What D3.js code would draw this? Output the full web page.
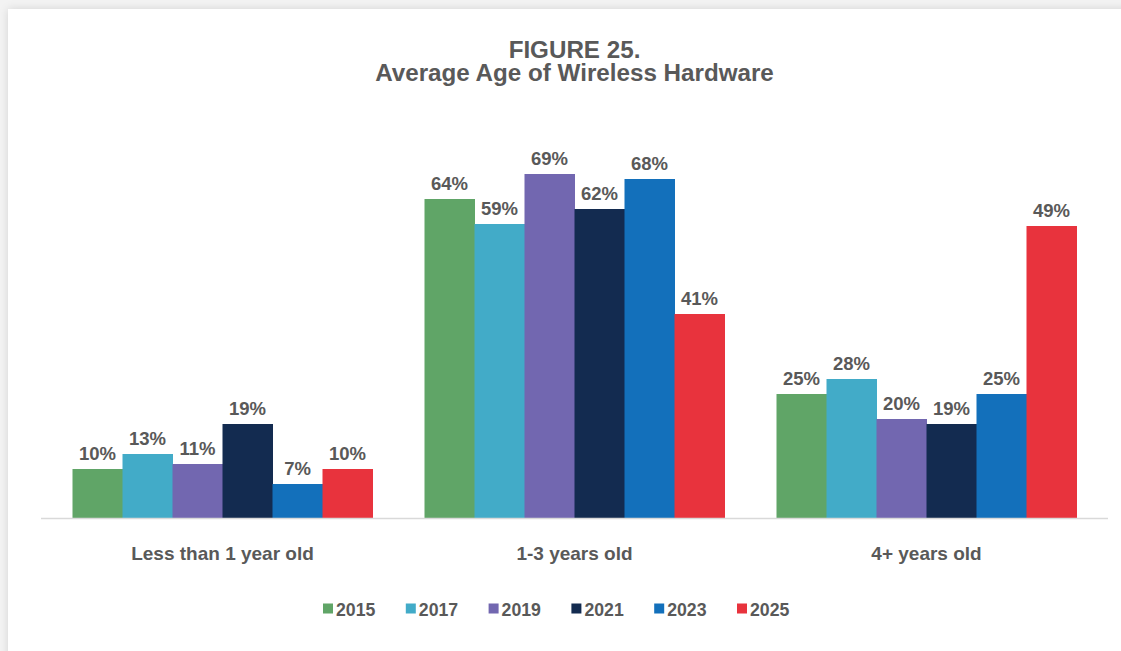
<!DOCTYPE html>
<html>
<head>
<meta charset="utf-8">
<script src="https://cdn.jsdelivr.net/npm/d3@7"></script>
<style>
  html, body { margin: 0; padding: 0; background: #f3f3f3; overflow: hidden; }
  #card {
    position: absolute; left: 8px; top: 9px; width: 1140px; height: 680px;
    background: #fff; box-shadow: 0 0 9px rgba(0,0,0,0.13);
  }
  svg { position: absolute; left: 0; top: 0; }
  text { font-family: "Liberation Sans", Arial, sans-serif; font-weight: bold; fill: #595959; }
</style>
</head>
<body>
<div id="card"></div>
<div id="chart"></div>
<script>
// data
var categories = ["Less than 1 year old", "1-3 years old", "4+ years old"];
var years = ["2015", "2017", "2019", "2021", "2023", "2025"];
var s2015 = [10, 64, 25];
var s2017 = [13, 59, 28];
var s2019 = [11, 69, 20];
var s2021 = [19, 62, 19];
var s2023 = [7, 68, 25];
var s2025 = [10, 41, 49];
// in the source figure the 4+ bar for 2025 is drawn taller than its 49% label
var drawn2025 = [10, 41, 58.6];

var colors = ["#60a567", "#42abc8", "#7267b0", "#132b50", "#1370bb", "#e8333d"];

var series = [s2015, s2017, s2019, s2021, s2023, s2025];
var heights = [s2015, s2017, s2019, s2021, s2023, drawn2025];

var width = 1121, height = 651;

var svg = d3.select('#chart').append('svg')
    .attr('width', width)
    .attr('height', height);

// title
svg.append('text')
    .attr('x', 574.5).attr('y', 58)
    .attr('text-anchor', 'middle')
    .style('font-size', '24.2px')
    .text('FIGURE 25.');
svg.append('text')
    .attr('x', 574.5).attr('y', 81)
    .attr('text-anchor', 'middle')
    .style('font-size', '24.2px')
    .text('Average Age of Wireless Hardware');

var x0 = d3.scaleBand()
    .domain(categories)
    .range([46.5, 1102.5])
    .paddingInner(52 / 352)
    .paddingOuter(26 / 352);

var x1 = d3.scaleBand()
    .domain(years)
    .range([0, x0.bandwidth()]);

var y = d3.scaleLinear()
    .domain([0, 100])
    .range([519, 19]);

var groups = svg.selectAll('g.grp')
    .data(categories)
    .enter().append('g')
    .attr('class', 'grp')
    .attr('transform', function(d) { return 'translate(' + x0(d) + ',0)'; });

groups.each(function(cat, ci) {
    var g = d3.select(this);
    years.forEach(function(yr, si) {
        var h = heights[si][ci];
        g.append('rect')
            .attr('x', x1(yr))
            .attr('y', y(h))
            .attr('width', x1.bandwidth() + 0.5)
            .attr('height', y(0) - y(h))
            .attr('fill', colors[si]);
        g.append('text')
            .attr('x', x1(yr) + x1.bandwidth() / 2)
            .attr('y', y(h) - 9.5)
            .attr('text-anchor', 'middle')
            .style('font-size', '18.5px')
            .text(series[si][ci] + '%');
    });
});

// baseline
svg.append('line')
    .attr('x1', 41).attr('x2', 1108)
    .attr('y1', y(0) - 0.5).attr('y2', y(0) - 0.5)
    .attr('stroke', '#d9d9d9')
    .attr('stroke-width', 1.6);

// category labels
var xAxis = svg.append('g')
    .attr('transform', 'translate(0,' + y(0) + ')')
    .call(d3.axisBottom(x0).tickSize(0));
xAxis.select('.domain').remove();
xAxis.selectAll('text')
    .attr('dy', null)
    .style('font-family', '"Liberation Sans", Arial, sans-serif')
    .style('font-weight', 'bold')
    .style('font-size', '19px')
    .attr('fill', '#595959')
    .attr('y', 41);

// legend
var legX = d3.scalePoint()
    .domain(years)
    .range([323, 737]);

var leg = svg.selectAll('g.leg')
    .data(years)
    .enter().append('g')
    .attr('class', 'leg')
    .attr('transform', function(d) { return 'translate(' + legX(d) + ',0)'; });
leg.append('rect')
    .attr('x', 0).attr('y', 603.5)
    .attr('width', 10).attr('height', 10)
    .attr('fill', function(d, i) { return colors[i]; });
leg.append('text')
    .attr('x', 13).attr('y', 615.5)
    .style('font-size', '17.7px')
    .text(function(d) { return d; });
</script>
</body>
</html>
